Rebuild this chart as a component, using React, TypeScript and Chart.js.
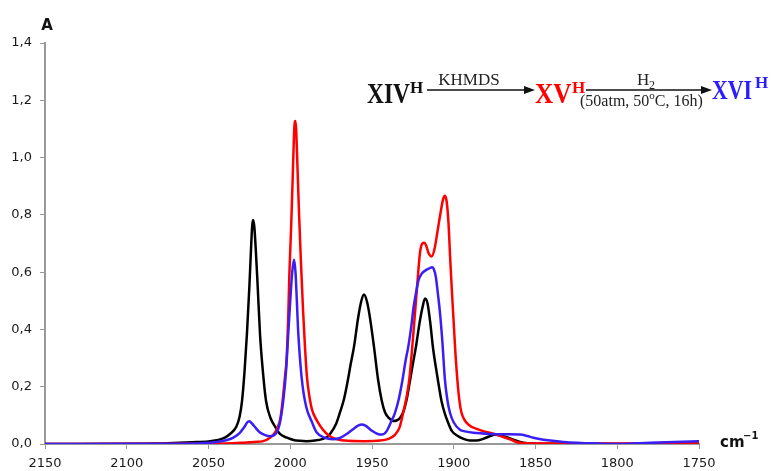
import React, { useEffect, useRef } from "react";
import { Chart, registerables } from "chart.js";

Chart.register(...registerables);

// Wavenumbers (cm-1) and absorbances
const blackWn = [2150, 2100, 2075, 2060, 2050, 2045, 2040, 2036.9, 2033, 2031, 2029.5, 2028, 2026.5, 2025, 2024, 2023.3, 2022.8, 2022, 2021, 2020, 2018.5, 2017, 2014.8, 2012, 2009, 2006.3, 2002, 1998, 1994, 1990, 1985, 1980, 1977, 1975.7, 1972, 1969.6, 1967, 1964.7, 1963, 1961, 1958.5, 1956.5, 1954.9, 1953.2, 1951.5, 1948.8, 1946.3, 1944, 1942, 1939.5, 1937, 1935, 1933, 1931, 1929, 1926.8, 1925, 1923.1, 1921, 1919, 1917.6, 1916, 1914.3, 1912.7, 1911, 1909.6, 1907.5, 1905.4, 1903, 1901.1, 1898, 1894, 1890, 1886, 1882, 1878, 1875, 1871, 1866, 1860, 1855, 1840, 1800, 1750];
const blackAbs = [0.0, 0.001, 0.003, 0.006, 0.009, 0.013, 0.022, 0.035, 0.06, 0.095, 0.15, 0.25, 0.384, 0.55, 0.68, 0.76, 0.782, 0.76, 0.67, 0.56, 0.384, 0.27, 0.15, 0.09, 0.058, 0.035, 0.022, 0.014, 0.011, 0.01, 0.012, 0.018, 0.026, 0.035, 0.07, 0.11, 0.16, 0.225, 0.28, 0.34, 0.44, 0.5, 0.522, 0.5, 0.45, 0.34, 0.225, 0.15, 0.11, 0.09, 0.08, 0.082, 0.09, 0.11, 0.15, 0.22, 0.28, 0.34, 0.42, 0.48, 0.508, 0.49, 0.42, 0.336, 0.27, 0.22, 0.15, 0.105, 0.068, 0.045, 0.03, 0.018, 0.012, 0.012, 0.018, 0.027, 0.032, 0.03, 0.02, 0.008, 0.003, 0.001, 0.0, 0.0];

const redWn = [2150, 2080, 2040, 2030, 2022, 2016.5, 2012.4, 2010, 2008.3, 2006, 2004.5, 2003.2, 2002.2, 2001.2, 2000.5, 1999.5, 1998.5, 1997.7, 1997.3, 1996.9, 1996.4, 1995.6, 1994.7, 1993.5, 1992.2, 1991, 1989.8, 1988.4, 1986.7, 1983.5, 1980, 1976, 1971.4, 1965, 1955, 1945, 1940, 1936, 1933, 1930.9, 1929, 1927.2, 1925.5, 1923.7, 1922, 1920.6, 1919.2, 1918, 1917, 1915.5, 1913.5, 1911.8, 1910, 1908, 1906.5, 1905.4, 1904.3, 1903.2, 1902.2, 1901.1, 1900, 1899, 1897.8, 1896.5, 1895.3, 1893.5, 1891.5, 1889, 1885.5, 1882, 1874, 1865.5, 1859.5, 1850, 1800, 1750];
const redAbs = [0.0, 0.001, 0.002, 0.004, 0.007, 0.01, 0.022, 0.035, 0.051, 0.09, 0.16, 0.235, 0.3, 0.45, 0.6, 0.75, 0.93, 1.08, 1.12, 1.128, 1.1, 0.97, 0.817, 0.64, 0.47, 0.34, 0.235, 0.17, 0.12, 0.08, 0.05, 0.028, 0.016, 0.011, 0.01, 0.012, 0.018, 0.032, 0.06, 0.11, 0.16, 0.225, 0.33, 0.458, 0.58, 0.67, 0.7, 0.703, 0.695, 0.668, 0.655, 0.68, 0.74, 0.81, 0.855, 0.867, 0.845, 0.77, 0.65, 0.53, 0.42, 0.32, 0.225, 0.15, 0.11, 0.085, 0.07, 0.06, 0.052, 0.045, 0.033, 0.016, 0.004, 0.002, 0.002, 0.003];

const blueWn = [2150, 2080, 2055, 2045, 2040, 2034.8, 2030.7, 2028, 2026.5, 2025.2, 2024, 2022, 2018.5, 2015, 2012.4, 2009, 2006.5, 2004.2, 2002.5, 2001.2, 2000, 1998.8, 1997.7, 1996.8, 1995.1, 1993.8, 1992.4, 1991, 1989.5, 1987, 1983.8, 1979, 1974, 1970, 1966, 1962, 1958.5, 1956.3, 1954, 1950, 1946.5, 1944, 1941, 1938.5, 1936, 1933.5, 1931.3, 1929.5, 1927.8, 1926, 1924.5, 1923, 1921.5, 1919.5, 1917, 1915, 1913.3, 1912.3, 1911, 1909.6, 1908.4, 1907, 1905.4, 1903.8, 1902.3, 1900, 1896.2, 1893, 1888, 1877.8, 1868, 1859.5, 1855, 1851.4, 1846, 1841, 1831, 1820, 1802.4, 1790, 1780, 1765, 1750];
const blueAbs = [0.0, 0.001, 0.003, 0.007, 0.012, 0.022, 0.04, 0.06, 0.074, 0.079, 0.075, 0.062, 0.04, 0.03, 0.027, 0.035, 0.07, 0.155, 0.26, 0.388, 0.5, 0.6, 0.643, 0.6, 0.388, 0.28, 0.2, 0.15, 0.115, 0.08, 0.04, 0.022, 0.017, 0.02, 0.033, 0.05, 0.064, 0.068, 0.064, 0.046, 0.035, 0.033, 0.045, 0.075, 0.108, 0.16, 0.225, 0.29, 0.34, 0.41, 0.48, 0.53, 0.573, 0.595, 0.607, 0.613, 0.617, 0.612, 0.585, 0.52, 0.457, 0.36, 0.225, 0.15, 0.109, 0.075, 0.05, 0.044, 0.039, 0.035, 0.034, 0.033, 0.028, 0.022, 0.016, 0.012, 0.006, 0.003, 0.0, 0.002, 0.004, 0.007, 0.01];

const xMin = 1750;
const xMax = 2150;
const xStep = 50;
const yMin = 0;
const yMax = 1.4;
const yStep = 0.2;

const toPoints = (xs: number[], ys: number[]) => xs.map((x, i) => ({ x, y: ys[i] }));

const annotationPlugin = {
  id: "annotations",
  afterDraw(chart: any) {
    const ctx: CanvasRenderingContext2D = chart.ctx;
    ctx.save();
    ctx.textBaseline = "alphabetic";
    ctx.textAlign = "left";

    // Axis titles
    ctx.fillStyle = "#111";
    ctx.font = "bold 15px 'DejaVu Sans'";
    ctx.textAlign = "center";
    ctx.fillText("A", 47, 30);
    ctx.textAlign = "left";
    ctx.font = "bold 15px 'DejaVu Sans'";
    ctx.fillText("cm", 720, 447);
    ctx.font = "bold 10px 'DejaVu Sans'";
    ctx.fillText("\u22121", 743, 439);

    const serif = "'Liberation Serif'";
    const arrow = (x1: number, x2: number, y: number) => {
      ctx.strokeStyle = "#111";
      ctx.fillStyle = "#111";
      ctx.lineWidth = 1.5;
      ctx.beginPath();
      ctx.moveTo(x1, y);
      ctx.lineTo(x2 - 8, y);
      ctx.stroke();
      ctx.beginPath();
      ctx.moveTo(x2, y);
      ctx.lineTo(x2 - 11, y - 4);
      ctx.lineTo(x2 - 11, y + 4);
      ctx.closePath();
      ctx.fill();
    };
    const squeezed = (text: string, x: number, y: number, size: number, sx: number, color: string) => {
      ctx.save();
      ctx.fillStyle = color;
      ctx.font = `bold ${size}px ${serif}`;
      ctx.translate(x, y);
      ctx.scale(sx, 1);
      ctx.fillText(text, 0, 0);
      ctx.restore();
    };

    // XIV^H
    squeezed("XIV", 367, 103, 30, 0.78, "#111");
    ctx.fillStyle = "#111";
    ctx.font = `bold 17px ${serif}`;
    ctx.fillText("H", 410, 93);

    arrow(427, 535, 90);
    ctx.fillStyle = "#222";
    ctx.font = `17px ${serif}`;
    ctx.textAlign = "center";
    ctx.fillText("KHMDS", 469, 85);
    ctx.textAlign = "left";

    // XV^H
    squeezed("XV", 535, 103, 30, 0.84, "#ff0000");
    ctx.fillStyle = "#ff0000";
    ctx.font = `bold 17px ${serif}`;
    ctx.fillText("H", 572, 93);

    arrow(586, 712, 90);
    ctx.fillStyle = "#222";
    ctx.font = `17px ${serif}`;
    ctx.fillText("H", 637, 85);
    ctx.font = `12px ${serif}`;
    ctx.fillText("2", 649, 89);
    ctx.font = `16px ${serif}`;
    let x = 580;
    const t1 = "(50atm, 50";
    ctx.fillText(t1, x, 106);
    x += ctx.measureText(t1).width;
    ctx.font = `11px ${serif}`;
    ctx.fillText("o", x, 99);
    x += ctx.measureText("o").width;
    ctx.font = `16px ${serif}`;
    ctx.fillText("C, 16h)", x, 106);

    // XVI^H
    squeezed("XVI", 712, 99, 28, 0.78, "#2a1cff");
    ctx.fillStyle = "#2a1cff";
    ctx.font = `bold 17px ${serif}`;
    ctx.fillText("H", 755, 88);

    ctx.restore();
  },
};

export default function App() {
  const canvasRef = useRef<HTMLCanvasElement | null>(null);

  useEffect(() => {
    if (!canvasRef.current) return;
    const tickFont = { family: "'DejaVu Sans'", size: 13 };
    const chart = new Chart(canvasRef.current, {
      type: "line",
      data: {
        datasets: [
          {
            label: "XVI",
            data: toPoints(blueWn, blueAbs),
            borderColor: "#3a1ff5",
            borderWidth: 2.5,
            pointRadius: 0,
            cubicInterpolationMode: "monotone",
          },
          {
            label: "XV",
            data: toPoints(redWn, redAbs),
            borderColor: "#ff0000",
            borderWidth: 2.5,
            pointRadius: 0,
            cubicInterpolationMode: "monotone",
          },
          {
            label: "XIV",
            data: toPoints(blackWn, blackAbs),
            borderColor: "#000000",
            borderWidth: 2.5,
            pointRadius: 0,
            cubicInterpolationMode: "monotone",
          },
        ],
      },
      options: {
        animation: false,
        responsive: false,
        maintainAspectRatio: false,
        layout: { padding: { left: 0, top: 43, right: 73, bottom: 0 } },
        plugins: { legend: { display: false }, tooltip: { enabled: false } },
        scales: {
          x: {
            type: "linear",
            reverse: true,
            min: xMin,
            max: xMax,
            ticks: {
              stepSize: xStep,
              callback: (v: any) => String(v),
              font: tickFont,
              color: "#1a1a1a",
              padding: 7,
              maxRotation: 0,
              autoSkip: false,
            },
            grid: { drawOnChartArea: false, drawTicks: true, tickLength: 5, color: "#999" },
            border: { display: true, color: "#999", width: 2 },
            afterFit: (scale: any) => {
              scale.height = 27;
            },
          },
          y: {
            min: yMin,
            max: yMax,
            ticks: {
              stepSize: yStep,
              callback: (v: any) => Number(v).toFixed(1).replace(".", ","),
              font: tickFont,
              color: "#1a1a1a",
              padding: 8,
            },
            grid: { drawOnChartArea: false, drawTicks: true, tickLength: 5, color: "#999" },
            border: { display: true, color: "#999", width: 2 },
            afterFit: (scale: any) => {
              scale.width = 45;
            },
          },
        },
      } as any,
      plugins: [annotationPlugin],
    });
    return () => chart.destroy();
  }, []);

  return (
    <div style={{ position: "absolute", left: 0, top: 0, width: 772, height: 471, background: "#fff" }}>
      <canvas ref={canvasRef} width={772} height={471} />
    </div>
  );
}
